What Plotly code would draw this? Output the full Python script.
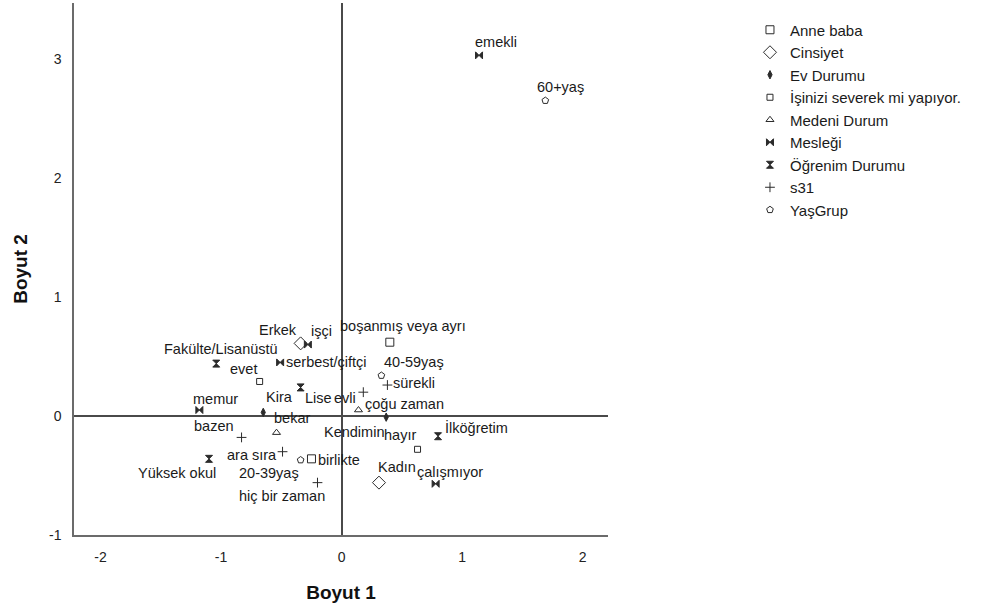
import plotly.graph_objects as go

# ---------------- data ----------------
anne_baba_labels = ["birlikte", "boşanmış veya ayrı"]
anne_baba_x = [-0.25, 0.40]
anne_baba_y = [-0.36, 0.62]

cinsiyet_labels = ["Erkek", "Kadın"]
cinsiyet_x = [-0.34, 0.31]
cinsiyet_y = [0.61, -0.56]

ev_labels = ["Kira", "Kendimin"]
ev_x = [-0.65, 0.37]
ev_y = [0.03, -0.01]

isinizi_labels = ["evet", "hayır"]
isinizi_x = [-0.68, 0.63]
isinizi_y = [0.29, -0.28]

medeni_labels = ["bekar", "evli"]
medeni_x = [-0.54, 0.14]
medeni_y = [-0.14, 0.05]

meslek_labels = ["işçi", "serbest/çiftçi", "memur", "emekli", "çalışmıyor"]
meslek_x = [-0.28, -0.51, -1.18, 1.14, 0.78]
meslek_y = [0.60, 0.45, 0.05, 3.03, -0.57]

ogrenim_labels = ["Fakülte/Lisanüstü", "Lise", "İlköğretim", "Yüksek okul"]
ogrenim_x = [-1.04, -0.34, 0.80, -1.10]
ogrenim_y = [0.44, 0.24, -0.17, -0.36]

s31_labels = ["çoğu zaman", "sürekli", "bazen", "ara sıra", "hiç bir zaman"]
s31_x = [0.18, 0.38, -0.83, -0.49, -0.20]
s31_y = [0.20, 0.26, -0.18, -0.30, -0.56]

yas_labels = ["40-59yaş", "20-39yaş", "60+yaş"]
yas_x = [0.33, -0.34, 1.69]
yas_y = [0.34, -0.37, 2.65]

x_ticks = [-2, -1, 0, 1, 2]
x_tick_text = ["-2", "-1", "0", "1", "2"]
y_ticks = [-1, 0, 1, 2, 3]
y_tick_text = ["-1", "0", "1", "2", "3"]

# ---------------- styling ----------------
INK = "#2b2b2b"
series = [
    ("Anne baba", anne_baba_labels, anne_baba_x, anne_baba_y, "square-open", 8),
    ("Cinsiyet", cinsiyet_labels, cinsiyet_x, cinsiyet_y, "diamond-open", 10),
    ("Ev Durumu", ev_labels, ev_x, ev_y, "diamond-tall", 6),
    ("İşinizi severek mi yapıyor.", isinizi_labels, isinizi_x, isinizi_y, "square-open", 6),
    ("Medeni Durum", medeni_labels, medeni_x, medeni_y, "triangle-up-open", 7),
    ("Mesleği", meslek_labels, meslek_x, meslek_y, "bowtie", 7),
    ("Öğrenim Durumu", ogrenim_labels, ogrenim_x, ogrenim_y, "hourglass", 7),
    ("s31", s31_labels, s31_x, s31_y, "cross-thin-open", 7),
    ("YaşGrup", yas_labels, yas_x, yas_y, "pentagon-open", 7),
]

# label placement offsets in pixels (dx to label's left edge, dy down)
label_offsets = {
    "birlikte": (6, 1), "boşanmış veya ayrı": (-51, -16),
    "Erkek": (-43, -13), "Kadın": (-2, -16),
    "Kira": (2, -15), "Kendimin": (-63, 15),
    "evet": (-31, -12), "hayır": (-35, -14),
    "bekar": (-4, -15), "evli": (-25, -12),
    "işçi": (2, -14), "serbest/çiftçi": (5, 0), "memur": (-7, -11),
    "emekli": (-5, -13), "çalışmıyor": (-20, -12),
    "Fakülte/Lisanüstü": (-53, -15), "Lise": (3, 11),
    "İlköğretim": (6, -9), "Yüksek okul": (-72, 14),
    "çoğu zaman": (1, 12), "sürekli": (5, -2), "bazen": (-49, -11),
    "ara sıra": (-57, 3), "hiç bir zaman": (-79, 13),
    "40-59yaş": (2, -14), "20-39yaş": (-63, 13), "60+yaş": (-9, -14),
}

FONT = "Liberation Sans, Arial, sans-serif"

fig = go.Figure()
annotations = []
for name, labels, xs, ys, sym, size in series:
    fig.add_trace(go.Scatter(
        x=xs, y=ys, mode="markers", name=name,
        marker=dict(symbol=sym, size=size, color=INK,
                    line=dict(color=INK, width=1)),
        hovertext=labels, hoverinfo="text+name",
    ))
    for lab, xv, yv in zip(labels, xs, ys):
        dx, dy = label_offsets.get(lab, (4, -12))
        annotations.append(dict(
            x=xv, y=yv, xref="x", yref="y", text=lab, showarrow=False,
            xanchor="left", yanchor="middle", xshift=dx, yshift=-dy,
            font=dict(family=FONT, size=14.5, color="#1a1a1a"),
            borderpad=0,
        ))

fig.update_layout(
    width=994, height=614,
    margin=dict(l=74, r=386, t=3, b=79),
    paper_bgcolor="white", plot_bgcolor="white",
    font=dict(family=FONT, color="#1a1a1a"),
    annotations=annotations,
    showlegend=True,
    legend=dict(
        xref="container", yref="container",
        x=0.7545, y=0.978, xanchor="left", yanchor="top",
        font=dict(family=FONT, size=15, color="#1a1a1a"),
        itemwidth=30, tracegroupgap=0, bgcolor="rgba(0,0,0,0)",
    ),
    xaxis=dict(
        range=[-2.22, 2.21], tickvals=x_ticks, ticktext=x_tick_text, showgrid=False,
        showline=True, linecolor="#6b6b6b", linewidth=1.5,
        zeroline=True, zerolinecolor="#4a4a4a", zerolinewidth=1.5,
        ticks="outside", ticklen=8, tickcolor="rgba(0,0,0,0)",
        tickfont=dict(size=14, color="#222"),
        title=dict(text="<b>Boyut 1</b>", font=dict(size=19, color="#111"), standoff=22),
    ),
    yaxis=dict(
        range=[-1, 3.47], tickvals=y_ticks, ticktext=y_tick_text, showgrid=False,
        showline=True, linecolor="#6b6b6b", linewidth=1.5,
        zeroline=True, zerolinecolor="#4a4a4a", zerolinewidth=1.5,
        ticks="outside", ticklen=8, tickcolor="rgba(0,0,0,0)",
        tickfont=dict(size=14, color="#222"),
        title=dict(text="<b>Boyut 2</b>", font=dict(size=19, color="#111"), standoff=16),
    ),
)

fig.write_html("out.html")
